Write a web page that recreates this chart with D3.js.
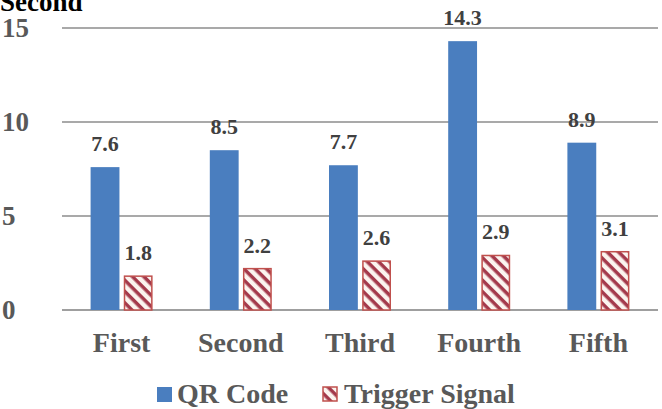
<!DOCTYPE html>
<html>
<head>
<meta charset="utf-8">
<script src="https://cdn.jsdelivr.net/npm/d3@7"></script>
<style>
	body { margin: 0; background: #fff; }
</style>
</head>
<body>
<div id="viz-holder"></div>
<script>
let categories = ['First', 'Second', 'Third', 'Fourth', 'Fifth'];
let series = ['QR Code', 'Trigger Signal'];
let qrValues = [7.6, 8.5, 7.7, 14.3, 8.9];
let triggerValues = [1.8, 2.2, 2.6, 2.9, 3.1];
let yTicks = [0, 5, 10, 15];

let width = 662, height = 409;
let margin = {top: 28, right: 4, bottom: 99, left: 62};
let font = "'Liberation Serif', 'Times New Roman', 'DejaVu Serif', serif";

let svg = d3.select('#viz-holder')
	.append('svg')
	.attr('width', width)
	.attr('height', height)
	.attr('font-family', font)
	.attr('font-weight', 'bold');

// stripes for the trigger bars
let defs = svg.append('defs');
let pat = defs.append('pattern')
	.attr('id', 'stripes')
	.attr('patternUnits', 'userSpaceOnUse')
	.attr('width', 8)
	.attr('height', 8)
	.attr('patternTransform', 'rotate(45)');
pat.append('rect').attr('width', 8).attr('height', 8).attr('fill', '#fbf4ef');
pat.append('rect').attr('width', 8).attr('height', 3.5).attr('fill', '#a43a4c');

let x = d3.scaleBand()
	.domain(categories)
	.range([margin.left, width - margin.right]);

let inner = d3.scaleBand()
	.domain(series)
	.range([x.bandwidth() / 2 - 31, x.bandwidth() / 2 + 31])
	.paddingInner(0.13);

let y = d3.scaleLinear()
	.domain([0, 15])
	.range([height - margin.bottom, margin.top]);

// grid
svg.append('g')
	.selectAll('line')
	.data(yTicks)
	.enter()
	.append('line')
	.attr('x1', margin.left)
	.attr('x2', width - margin.right)
	.attr('y1', d => y(d))
	.attr('y2', d => y(d))
	.attr('stroke', d => d === 0 ? '#7f7f7f' : '#8c8c8c')
	.attr('stroke-width', 1.6);

svg.append('g')
	.selectAll('text')
	.data(yTicks)
	.enter()
	.append('text')
	.attr('x', 2)
	.attr('y', d => y(d) + 9)
	.attr('fill', '#595959')
	.attr('font-size', 27)
	.text(d => d);

svg.append('text')
	.attr('x', 0)
	.attr('y', 11)
	.attr('fill', '#000')
	.attr('font-size', 27)
	.text('Second');

let data = categories.map((c, i) => ({cat: c, qr: qrValues[i], trig: triggerValues[i]}));

let groups = svg.selectAll('.grp')
	.data(data)
	.enter()
	.append('g')
	.attr('class', 'grp')
	.attr('transform', d => 'translate(' + x(d.cat) + ',0)');

groups.append('rect')
	.attr('x', inner('QR Code'))
	.attr('width', inner.bandwidth())
	.attr('y', d => y(d.qr))
	.attr('height', d => y(0) - y(d.qr))
	.attr('fill', '#4a7ebf');

groups.append('rect')
	.attr('x', inner('Trigger Signal') + 0.75)
	.attr('width', inner.bandwidth() - 1.5)
	.attr('y', d => y(d.trig))
	.attr('height', d => y(0) - y(d.trig))
	.attr('fill', 'url(#stripes)')
	.attr('stroke', '#c0504d')
	.attr('stroke-width', 1.5);

groups.append('text')
	.attr('x', inner('QR Code') + inner.bandwidth() / 2)
	.attr('y', d => y(d.qr) - 16)
	.attr('text-anchor', 'middle')
	.attr('fill', '#404040')
	.attr('font-size', 22)
	.text(d => d.qr.toFixed(1));

groups.append('text')
	.attr('x', inner('Trigger Signal') + inner.bandwidth() / 2)
	.attr('y', d => y(d.trig) - 16)
	.attr('text-anchor', 'middle')
	.attr('fill', '#404040')
	.attr('font-size', 22)
	.text(d => d.trig.toFixed(1));

svg.append('g')
	.selectAll('text')
	.data(categories)
	.enter()
	.append('text')
	.attr('x', d => x(d) + x.bandwidth() / 2)
	.attr('y', 352)
	.attr('text-anchor', 'middle')
	.attr('fill', '#595959')
	.attr('font-size', 28)
	.text(d => d);

// legend
let legend = svg.append('g');
legend.append('rect')
	.attr('x', 157).attr('y', 387).attr('width', 15).attr('height', 15)
	.attr('fill', '#4a7ebf');
legend.append('text')
	.attr('x', 177).attr('y', 403)
	.attr('fill', '#595959').attr('font-size', 28)
	.text(series[0]);
legend.append('rect')
	.attr('x', 323).attr('y', 387).attr('width', 14).attr('height', 14)
	.attr('fill', 'url(#stripes)')
	.attr('stroke', '#c0504d').attr('stroke-width', 1.5);
legend.append('text')
	.attr('x', 344).attr('y', 403)
	.attr('fill', '#595959').attr('font-size', 28)
	.text(series[1]);
</script>
</body>
</html>
